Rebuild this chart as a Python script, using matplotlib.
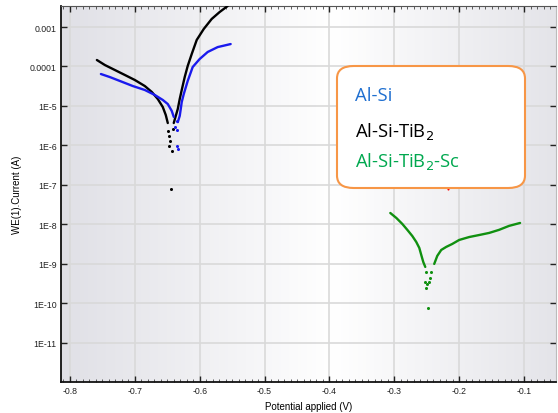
import numpy as np
import matplotlib
matplotlib.use("Agg")
from matplotlib import pyplot as plt
from matplotlib.patches import FancyBboxPatch
from matplotlib.colors import LinearSegmentedColormap

plt.rcParams['font.family'] = ['Liberation Sans', 'DejaVu Sans']

# Al-Si-TiB2 (black): cathodic branch, scattered points near Ecorr, anodic branch
tib2CathV = [-0.7585, -0.7462, -0.7308, -0.7154, -0.7000, -0.6846, -0.6738, -0.6646, -0.6569, -0.6523, -0.6492]
tib2CathI = [1.46e-4, 1.09e-4, 8.15e-5, 6.1e-5, 4.55e-5, 3.2e-5, 2.26e-5, 1.5e-5, 9.4e-6, 5.9e-6, 3.7e-6]
tib2DotsV = [-0.6492, -0.6477, -0.6462, -0.6477, -0.6431, -0.6446, -0.6415]
tib2DotsI = [2.33e-6, 1.74e-6, 1.3e-6, 9.7e-7, 7.3e-7, 7.9e-8, 2.6e-6]
tib2AnodV = [-0.6400, -0.6369, -0.6338, -0.6308, -0.6277, -0.6231, -0.6185, -0.6123, -0.6046, -0.5938, -0.5815, -0.5692, -0.5569]
tib2AnodI = [3.7e-6, 5.6e-6, 8.4e-6, 1.5e-5, 2.54e-5, 5.4e-5, 1.03e-4, 2.07e-4, 4.7e-4, 8.9e-4, 1.6e-3, 2.4e-3, 3.4e-3]

# Al-Si (blue)
alsiCathV = [-0.7523, -0.7385, -0.7231, -0.7031, -0.6846, -0.6692, -0.6569, -0.6492, -0.6431, -0.6400]
alsiCathI = [6.45e-5, 5.4e-5, 4.3e-5, 3.2e-5, 2.54e-5, 1.9e-5, 1.42e-5, 1.12e-5, 7.5e-6, 5.3e-6]
alsiDotsV = [-0.6354, -0.6385, -0.6354, -0.6354, -0.6338]
alsiDotsI = [4.2e-6, 2.94e-6, 2.47e-6, 9.7e-7, 8.1e-7]
alsiAnodV = [-0.6338, -0.6308, -0.6292, -0.6277, -0.6246, -0.6185, -0.6108, -0.6000, -0.5877, -0.5723, -0.5523]
alsiAnodI = [3.9e-6, 5.6e-6, 8.4e-6, 1.26e-5, 2.0e-5, 4.3e-5, 9.7e-5, 1.55e-4, 2.33e-4, 3.1e-4, 3.7e-4]

# Al-Si-TiB2-Sc (green)
scCathV = [-0.3062, -0.2969, -0.2877, -0.2800, -0.2723, -0.2662, -0.2615, -0.2585, -0.2554, -0.2523]
scCathI = [1.95e-8, 1.46e-8, 1.03e-8, 7.3e-9, 5.1e-9, 3.6e-9, 2.54e-9, 1.69e-9, 1.12e-9, 8.4e-10]
scDotsV = [-0.2508, -0.2523, -0.2508, -0.2492, -0.2477, -0.2462, -0.2446, -0.2431]
scDotsI = [6.3e-10, 3.5e-10, 2.47e-10, 3.1e-10, 7.7e-11, 3.5e-10, 4.4e-10, 6.3e-10]
scAnodV = [-0.2385, -0.2338, -0.2277, -0.2200, -0.2108, -0.2000, -0.1846, -0.1692, -0.1538, -0.1385, -0.1231, -0.1062]
scAnodI = [1.0e-9, 1.6e-9, 2.26e-9, 2.7e-9, 3.2e-9, 4.05e-9, 4.8e-9, 5.4e-9, 6.1e-9, 7.3e-9, 9.2e-9, 1.09e-8]

strayV = [-0.2169]
strayI = [7.9e-8]

xTicks = [-0.8, -0.7, -0.6, -0.5, -0.4, -0.3, -0.2, -0.1]
yTicks = [1e-3, 1e-4, 1e-5, 1e-6, 1e-7, 1e-8, 1e-9, 1e-10, 1e-11]
yTickLabels = ['0.001', '0.0001', '1E-5', '1E-6', '1E-7', '1E-8', '1E-9', '1E-10', '1E-11']

legendNames = ['Al-Si', 'Al-Si-TiB$_2$', 'Al-Si-TiB$_2$-Sc']
legendColors = ['#1f6fd0', '#000000', '#00a84f']

W, H = 558, 414
fig = plt.figure(figsize=(W / 100, H / 100), dpi=100)
ax = fig.add_axes([61 / W, 1 - 383 / H, (556 - 61) / W, (383 - 7) / H])

# background gradient (grey -> white -> grey)
bgCmap = LinearSegmentedColormap.from_list('bg', [(0.0, '#e0e0e6'), (0.55, '#ffffff'), (1.0, '#e4e4e9')])
ax.imshow(np.linspace(0, 1, 256)[None, :], cmap=bgCmap, aspect='auto',
          extent=[0, 1, 0, 1], transform=ax.transAxes, zorder=0)

ax.set_yscale('log')
ax.set_xlim(-0.8138, -0.0508)
ax.set_ylim(10 ** -11.99, 10 ** -2.468)

ax.set_xticks(xTicks)
ax.set_xticklabels([f'{v:.1f}' for v in xTicks])
ax.set_xticks(np.arange(-0.81, -0.05, 0.01), minor=True)
ax.set_yticks(yTicks)
ax.set_yticklabels(yTickLabels)
ax.yaxis.set_minor_locator(matplotlib.ticker.NullLocator())

ax.grid(True, which='major', color='#d9d9d9', lw=1.2, zorder=1)
ax.tick_params(which='major', direction='in', length=4, width=1, labelsize=6.3, pad=3,
               top=True, right=True, colors='#222222')
ax.tick_params(which='minor', direction='in', length=2, width=0.6, top=True, right=False,
               colors='#444444')
for s in ['left', 'bottom']:
    ax.spines[s].set_color('#111111')
    ax.spines[s].set_linewidth(1.3)
ax.spines['top'].set_color('#555555')
ax.spines['right'].set_color('#bbbbbb')

lineKw = dict(lw=1.7, solid_capstyle='round', zorder=3)
dotKw = dict(ls='none', marker='o', ms=2.2, mew=0, zorder=3)

ax.plot(tib2CathV, tib2CathI, color='black', **lineKw)
ax.plot(tib2AnodV, tib2AnodI, color='black', **lineKw)
ax.plot(tib2DotsV, tib2DotsI, color='black', **dotKw)

ax.plot(alsiCathV, alsiCathI, color='#1a1aee', **lineKw)
ax.plot(alsiAnodV, alsiAnodI, color='#1a1aee', **lineKw)
ax.plot(alsiDotsV, alsiDotsI, color='#1a1aee', **dotKw)

ax.plot(scCathV, scCathI, color='#109010', **lineKw)
ax.plot(scAnodV, scAnodI, color='#109010', **lineKw)
ax.plot(scDotsV, scDotsI, color='#109010', **dotKw)

ax.plot(strayV, strayI, ls='none', marker='o', ms=1.5, mew=0, color='red', zorder=3)

ax.set_xlabel('Potential applied (V)', fontsize=7, labelpad=4)
ax.set_ylabel('WE(1).Current (A)', fontsize=7, labelpad=6)

# legend box drawn as rounded rectangle with coloured text
bx0, by0, bx1, by1 = 337, 67, 525, 189
box = FancyBboxPatch((bx0 / W, 1 - by1 / H), (bx1 - bx0) / W, (by1 - by0) / H,
                     boxstyle='round,pad=0,rounding_size=0.03', transform=fig.transFigure,
                     facecolor='white', edgecolor='#f79646', lw=1.5, zorder=5)
fig.patches.append(box)
for name, col, base in zip(legendNames, legendColors, [101, 137, 167]):
    fig.text(355 / W, 1 - base / H, name, color=col, fontsize=13.3,
             family=['Open Sans', 'DejaVu Sans'], va='baseline', ha='left', zorder=6)

fig.savefig('out.png', dpi=100, facecolor='white')
